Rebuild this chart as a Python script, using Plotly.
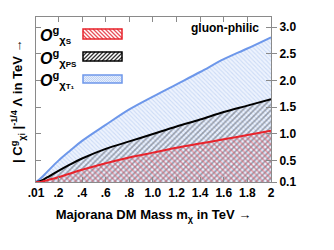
import plotly.graph_objects as go

mass = [0.01, 0.05, 0.1, 0.2, 0.3, 0.4, 0.6, 0.8, 1.0, 1.2, 1.4, 1.6, 1.8, 2.0]
lam_T1 = [0.1, 0.17, 0.28, 0.5, 0.69, 0.87, 1.17, 1.46, 1.7, 1.93, 2.16, 2.4, 2.6, 2.81]
lam_PS = [0.1, 0.12, 0.18, 0.31, 0.43, 0.54, 0.72, 0.86, 1.0, 1.14, 1.27, 1.41, 1.53, 1.65]
lam_S = [0.1, 0.1, 0.13, 0.19, 0.26, 0.33, 0.45, 0.56, 0.65, 0.74, 0.82, 0.9, 0.98, 1.06]

x_tickvals = [0.01, 0.2, 0.4, 0.6, 0.8, 1.0, 1.2, 1.4, 1.6, 1.8, 2.0]
x_ticktext = [".01", ".2", ".4", ".6", ".8", "1.0", "1.2", "1.4", "1.6", "1.8", "2"]
y_tickvals = [0.1, 0.5, 1.0, 1.5, 2.0, 2.5, 3.0]
y_ticktext = ["0.1", "0.5", "1.0", "1.5", "2.0", "2.5", "3.0"]

FONT = "Liberation Sans"
BLUE = "#6d97ea"
RED = "#e8232b"
GRAY = "#8a8a8a"

# page body has an 8px default margin: figure is placed at (8, 8)
OFF = 8
PAGE_W, PAGE_H = 334, 250
W, H = PAGE_W - OFF, PAGE_H - OFF
# plot area in page pixels
L, R, T, B = 36, 271, 17, 182


def pp(px, py):
    return (px - L) / (R - L), (B - py) / (B - T)


fig = go.Figure()
fig.add_trace(go.Scatter(
    x=mass, y=lam_T1, mode="lines", fill="tozeroy", line_shape="spline",
    line=dict(color=BLUE, width=2), showlegend=False,
    fillpattern=dict(shape="\\", fgcolor="#a9c3f0", bgcolor="#eef3fd", size=3, solidity=0.35),
))
fig.add_trace(go.Scatter(
    x=mass, y=lam_PS, mode="lines", fill="tozeroy", line_shape="spline",
    line=dict(color="black", width=2), showlegend=False,
    fillpattern=dict(shape="/", fgcolor="#4c4f5a", bgcolor="rgba(0,0,0,0)", size=4, solidity=0.4),
))
fig.add_trace(go.Scatter(
    x=mass, y=lam_S, mode="lines", fill="tozeroy", line_shape="spline",
    line=dict(color=RED, width=2), showlegend=False,
    fillpattern=dict(shape="\\", fgcolor="#e0505c", bgcolor="rgba(0,0,0,0)", size=4, solidity=0.4),
))

axis_common = dict(showline=True, linecolor=GRAY, linewidth=1, showgrid=False, zeroline=False,
                   automargin=False)

fig.update_layout(
    width=W, height=H,
    margin=dict(l=L - OFF, r=PAGE_W - R, t=T - OFF, b=PAGE_H - B, autoexpand=False),
    paper_bgcolor="white", plot_bgcolor="white",
    font=dict(family=FONT, color="black"),
    showlegend=False,
    xaxis=dict(range=[0.01, 2.0], tickvals=x_tickvals, ticktext=x_ticktext,
               ticks="inside", ticklen=5, mirror="ticks", tickcolor=GRAY,
               tickfont=dict(size=12, weight="bold", family=FONT),
               title=dict(text="Majorana DM Mass m<sub>χ</sub> in TeV →",
                          font=dict(size=13, weight="bold", family=FONT), standoff=10),
               **axis_common),
    yaxis=dict(range=[0.1, 3.19], tickvals=y_tickvals, ticktext=y_ticktext, side="right",
               ticks="inside", ticklen=5, mirror="ticks", tickcolor=GRAY,
               showticklabels=False, **axis_common),
    yaxis2=dict(range=[0.1, 3.19], tickvals=y_tickvals, ticktext=y_ticktext, side="right",
                overlaying="y", ticks="outside", ticklen=5, tickcolor=GRAY,
                tickfont=dict(size=12, weight="bold", family=FONT),
                showline=False, showgrid=False, zeroline=False, automargin=False),
)
# invisible trace so the outer tick/label axis is drawn
fig.add_trace(go.Scatter(x=[mass[0]], y=[lam_S[0]], yaxis="y2", mode="markers",
                         marker=dict(opacity=0), showlegend=False, hoverinfo="skip"))

fig.add_annotation(text="gluon-philic", xref="paper", yref="paper", x=pp(261, 0)[0], y=pp(0, 28)[1],
                   xanchor="right", yanchor="middle", showarrow=False,
                   font=dict(size=12, weight="bold", family=FONT))
fig.add_annotation(text="| C<sup>g</sup><sub>χi</sub> |<sup>-1/4</sup> Λ in TeV →",
                   xref="paper", yref="paper", x=pp(18, 0)[0], y=pp(0, 102)[1], textangle=-90,
                   xanchor="center", yanchor="middle", showarrow=False,
                   font=dict(size=13, weight="bold", family=FONT))

# legend (decorative): labels, boxes with hatching
legend_rows = [
    ("<i>O</i><sup>g</sup><sub>χ<span style='font-size:8px'>S</span></sub>", 29, 39, RED, "#ffffff", "\\", "#e8505a", 4),
    ("<i>O</i><sup>g</sup><sub>χ<span style='font-size:8px'>PS</span></sub>", 52, 61, "black", "#ffffff", "/", "#333333", 4),
    ("<i>O</i><sup>g</sup><sub>χ<span style='font-size:8px'>T₁</span></sub>", 75, 83, BLUE, "#e6eefc", "\\", "#b8cdf3", 2),
]
bx0, bx1 = 83, 122
for lab, y0, y1, col, bg, hatch, hcol, step in legend_rows:
    fig.add_annotation(text=lab, xref="paper", yref="paper", x=pp(38, 0)[0], y=pp(0, (y0 + y1) / 2 + 1)[1],
                       xanchor="left", yanchor="middle", showarrow=False,
                       font=dict(size=16, weight="bold", family=FONT))
    h = y1 - y0
    segs = []
    c = bx0 - h
    while c < bx1:
        if hatch == "\\":
            xa, ya, xb, yb = c, y0, c + h, y1
        else:
            xa, ya, xb, yb = c, y1, c + h, y0
        dx = xb - xa
        t0 = (bx0 - xa) / dx if xa < bx0 else 0.0
        t1 = (bx1 - xa) / dx if xb > bx1 else 1.0
        if c + h > bx0:
            pa = pp(xa + t0 * dx, ya + t0 * (yb - ya))
            pb = pp(xa + t1 * dx, ya + t1 * (yb - ya))
            segs.append(f"M{pa[0]:.4f},{pa[1]:.4f} L{pb[0]:.4f},{pb[1]:.4f}")
        c += step
    pa, pb = pp(bx0, y0), pp(bx1, y1)
    fig.add_shape(type="rect", xref="paper", yref="paper", x0=pa[0], x1=pb[0], y0=pb[1], y1=pa[1],
                  fillcolor=bg, line=dict(width=0), layer="above")
    fig.add_shape(type="path", xref="paper", yref="paper", path=" ".join(segs),
                  line=dict(color=hcol, width=1.3 if step > 2 else 0.8), layer="above")
    fig.add_shape(type="rect", xref="paper", yref="paper", x0=pa[0], x1=pb[0], y0=pb[1], y1=pa[1],
                  fillcolor="rgba(0,0,0,0)", line=dict(color=col, width=1.5), layer="above")

fig.write_html("out.html")
